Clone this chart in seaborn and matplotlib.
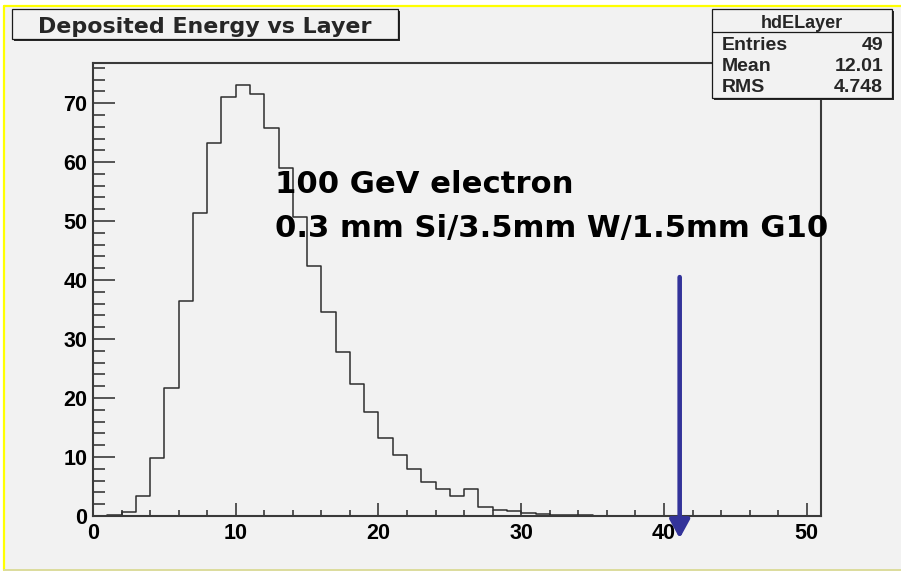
import numpy as np
import pandas as pd
import matplotlib
matplotlib.use("Agg")
import matplotlib.pyplot as plt
import seaborn as sns
from matplotlib.patches import Rectangle
from matplotlib.lines import Line2D

# Energy deposited per layer (histogram contents, one bin per layer)
layer = list(range(35))
deposited = [0.0, 0.15, 0.75, 3.4, 9.9, 21.7, 36.4, 51.3, 63.3, 71.0,
             73.0, 71.6, 65.7, 59.0, 50.7, 42.3, 34.6, 27.8, 22.4, 17.7,
             13.3, 10.3, 7.9, 5.8, 4.5, 3.4, 4.5, 1.5, 1.0, 0.8,
             0.56, 0.34, 0.1, 0.1, 0.1]

x_ticks = [0, 10, 20, 30, 40, 50]
y_ticks = [0, 10, 20, 30, 40, 50, 60, 70]

hist_name = "hdELayer"
stat_names = ["Entries", "Mean", "RMS"]
stat_values = ["49", "12.01", "4.748"]

title = "Deposited Energy vs Layer"
note_lines = ["100 GeV electron", "0.3 mm Si/3.5mm W/1.5mm G10"]

# Layer marked by the arrow
marked_layer = 41.1
arrow_top, arrow_tip = 40.5, -3.8

sns.set_style("ticks")
plt.rcParams["font.family"] = ["Liberation Sans", "DejaVu Sans"]

W, H = 901, 572
fig = plt.figure(figsize=(W / 100, H / 100), dpi=100, facecolor="white")


def fx(px):
    return px / W


def fy(py):
    return 1 - py / H


# Canvas pad background and its border
fig.add_artist(Rectangle((fx(4), fy(570)), 1.0, fy(6) - fy(570),
                         transform=fig.transFigure, facecolor="#f2f2f2",
                         edgecolor="none", zorder=-2))
fig.add_artist(Line2D([fx(4), 1.0], [fy(6), fy(6)], transform=fig.transFigure,
                      color="#ffff00", lw=1.6, zorder=-1))
fig.add_artist(Line2D([fx(4), fx(4)], [fy(6), fy(570)], transform=fig.transFigure,
                      color="#ffff00", lw=1.6, zorder=-1))
fig.add_artist(Line2D([fx(4), 1.0], [fy(570), fy(570)], transform=fig.transFigure,
                      color="#dcdc9c", lw=1.4, zorder=-1))

ax = fig.add_axes([fx(93), fy(516), fx(821) - fx(93), fy(63) - fy(516)])
ax.set_facecolor("#f2f2f2")

hist_df = pd.DataFrame({"layer": np.array(layer) + 0.5, "dE": deposited})
sns.histplot(data=hist_df, x="layer", weights="dE", binwidth=1,
             binrange=(0, len(layer)), element="step", fill=False,
             color="#2e2e2e", linewidth=1.1, ax=ax)

ax.set_xlim(0, 51)
ax.set_ylim(0, 76.8)
ax.set_xlabel("")
ax.set_ylabel("")

ax.set_xticks(x_ticks)
ax.set_yticks(y_ticks)
ax.set_xticks(np.arange(0, 51, 2), minor=True)
ax.set_yticks(np.arange(0, 77, 2), minor=True)

frame_color = "#3a3a3a"
for sp in ax.spines.values():
    sp.set_color(frame_color)
    sp.set_linewidth(1.5)

ax.tick_params(axis="both", which="both", direction="in", color=frame_color,
               width=1.2, labelsize=15.5, labelcolor="black")
ax.tick_params(axis="y", which="major", length=16, pad=4)
ax.tick_params(axis="y", which="minor", length=8.4)
ax.tick_params(axis="x", which="major", length=9.6, pad=5)
ax.tick_params(axis="x", which="minor", length=4.5)
for lab in ax.get_xticklabels() + ax.get_yticklabels():
    lab.set_fontweight("bold")
    lab.set_family(["Liberation Sans"])

ax.annotate("", xy=(marked_layer, arrow_tip), xytext=(marked_layer, arrow_top),
            arrowprops=dict(arrowstyle="-|>,head_length=0.55,head_width=0.3",
                            color="#33339a", lw=3.3, shrinkA=0, shrinkB=0,
                            mutation_scale=20),
            annotation_clip=False)


def shadow_box(x0, y0, x1, y1, z=5):
    fig.add_artist(Rectangle((fx(x0 + 2), fy(y1 + 2)), fx(x1) - fx(x0),
                             fy(y0) - fy(y1), transform=fig.transFigure,
                             facecolor="#2a2a2a", edgecolor="none", zorder=z))
    fig.add_artist(Rectangle((fx(x0), fy(y1)), fx(x1) - fx(x0),
                             fy(y0) - fy(y1), transform=fig.transFigure,
                             facecolor="#f2f2f2", edgecolor="#1a1a1a",
                             lw=0.9, zorder=z + 0.1))


# Title box
shadow_box(12, 9, 398, 39)
fig.text(fx(205), fy(33.3), title, ha="center", va="baseline",
         fontsize=15.9, fontweight="bold", family=["DejaVu Sans"], zorder=6)

# Statistics box
shadow_box(712, 9, 892, 98)
fig.add_artist(Line2D([fx(712), fx(892)], [fy(32), fy(32)],
                      transform=fig.transFigure, color="#1a1a1a", lw=0.9,
                      zorder=6))
fig.text(fx(802), fy(28.3), hist_name, ha="center", va="baseline",
         fontsize=13, fontweight="bold", zorder=6)
for i, (n, v) in enumerate(zip(stat_names, stat_values)):
    base = 50 + i * 20.8
    fig.text(fx(722), fy(base), n, ha="left", va="baseline",
             fontsize=14, fontweight="bold", zorder=6)
    fig.text(fx(883), fy(base), v, ha="right", va="baseline",
             fontsize=14, fontweight="bold", zorder=6)

# Beam / detector description
for i, line in enumerate(note_lines):
    fig.text(fx(275), fy(193.3 + i * 44), line, ha="left", va="baseline",
             fontsize=22.1, fontweight="bold", family=["DejaVu Sans"],
             color="black", zorder=6)

fig.savefig("out.png", dpi=100, facecolor="white")
